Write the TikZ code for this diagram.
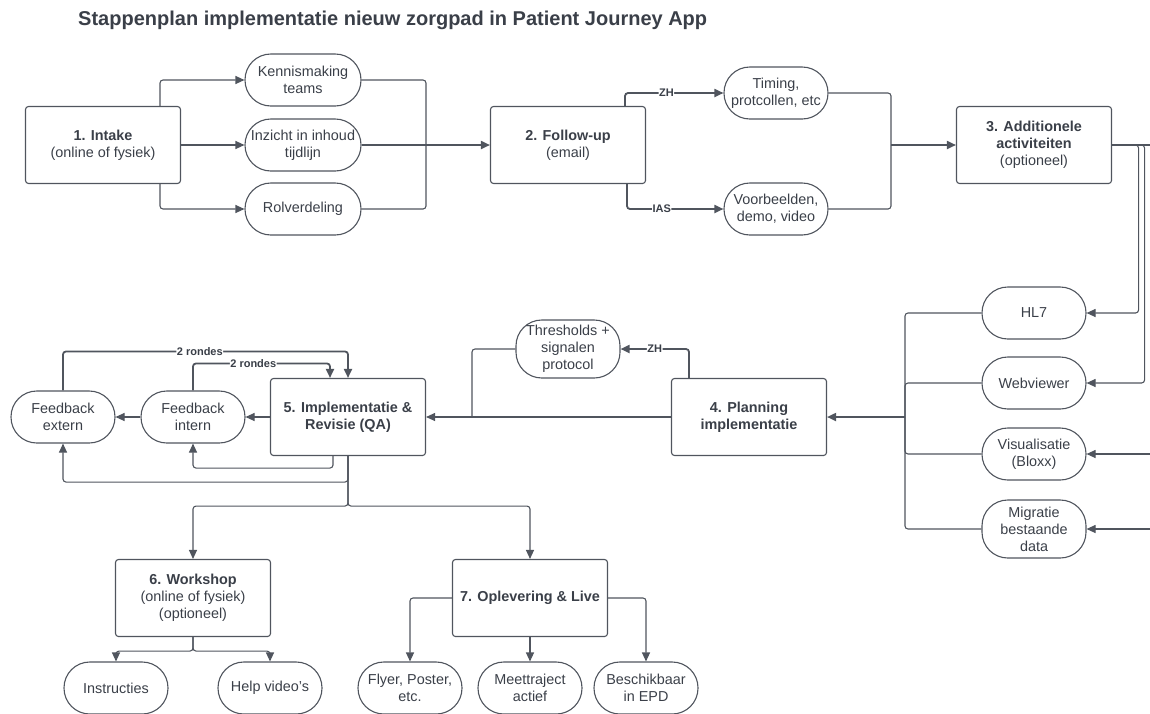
\documentclass[tikz,border=0pt]{standalone}
\usepackage{fontspec}
\setmainfont{Liberation Sans}
\usetikzlibrary{arrows.meta}
\definecolor{lc}{HTML}{50555E}
\definecolor{tc}{HTML}{3A3F48}
\begin{document}
\begin{tikzpicture}[x=1pt,y=-1pt,
  every node/.style={text=tc},
  box/.style={draw=lc, line width=1.1pt, rounded corners=3pt, minimum width=155pt, minimum height=77pt, align=center, inner sep=2pt, font=\fontsize{14.4}{17}\selectfont},
  pill/.style={draw=lc, line width=1.1pt, rounded corners=25.8pt, minimum width=104pt, minimum height=52pt, align=center, inner sep=1pt, font=\fontsize{14.4}{17}\selectfont},
  conn/.style={draw=lc, line width=1.1pt, rounded corners=3pt},
  thk/.style={line width=1.8pt},
  arr/.style={-{Triangle[length=9pt,width=8pt]}},
  lbl/.style={fill=white, inner sep=0.5pt, font=\bfseries\fontsize{11}{13}\selectfont}
]
\useasboundingbox (0,0) rectangle (1150,713);
\clip (0,0) rectangle (1150,713);

\node[anchor=west, inner sep=0pt, font=\bfseries\fontsize{20}{23}\selectfont] (title) at (78,20) {Stappenplan implementatie nieuw zorgpad in Patient Journey App};

% nodes
\node[box] (intake) at (103,145) {\textbf{1. Intake}\\(online of fysiek)};
\node[pill, minimum width=116pt] (kenn) at (303,80) {Kennismaking\\teams};
\node[pill, minimum width=116pt] (inz) at (303,145) {Inzicht in inhoud\\tijdlijn};
\node[pill, minimum width=116pt] (rol) at (303,209) {Rolverdeling};
\node[box] (fu) at (568,145) {\textbf{2. Follow-up}\\(email)};
\node[pill] (tim) at (776,93) {Timing,\\protcollen, etc};
\node[pill] (voor) at (776,209) {Voorbeelden,\\demo, video};
\node[box] (add) at (1034,145) {\textbf{3. Additionele}\\\textbf{activiteiten}\\(optioneel)};
\node[pill] (hl7) at (1034,313) {HL7};
\node[pill] (web) at (1034,383) {Webviewer};
\node[pill] (vis) at (1034,454) {Visualisatie\\(Bloxx)};
\node[pill, minimum height=58pt] (mig) at (1034,529) {Migratie\\bestaande\\data};
\node[box] (plan) at (749,417) {\textbf{4. Planning}\\\textbf{implementatie}};
\node[pill, minimum height=58pt] (thr) at (568,349) {Thresholds +\\signalen\\protocol};
\node[box] (impl) at (348,417) {\textbf{5. Implementatie \&}\\\textbf{Revisie (QA)}};
\node[pill] (fbi) at (193,417) {Feedback\\intern};
\node[pill] (fbe) at (63,417) {Feedback\\extern};
\node[box] (ws) at (193,598) {\textbf{6. Workshop}\\(online of fysiek)\\(optioneel)};
\node[box] (opl) at (530,598) {\textbf{7. Oplevering \& Live}};
\node[pill] (ins) at (116,688) {Instructies};
\node[pill] (help) at (270,688) {Help video's};
\node[pill] (fly) at (410,688) {Flyer, Poster,\\etc.};
\node[pill] (meet) at (530,688) {Meettraject\\actief};
\node[pill] (besch) at (646,688) {Beschikbaar\\in EPD};

% coordinates
\coordinate (m1) at (426,145);
\coordinate (m2) at (891,145);
\coordinate (m3) at (905,417);
\coordinate (m4) at (472,417);
\coordinate (re1) at (1160,145);
\coordinate (re2) at (1160,454);
\coordinate (re3) at (1160,529);

% step 1
\draw[conn,arr] ([xshift=57pt]intake.north) |- (kenn.west);
\draw[conn,arr] (intake.east) -- (inz.west);
\draw[conn,arr] ([xshift=57pt]intake.south) |- (rol.west);
\draw[conn] (kenn.east) -| (m1);
\draw[conn] (rol.east) -| (m1);
\draw[conn] (inz.east) -- (m1);
\draw[conn,thk,arr] (m1) -- (fu.west);

% step 2
\draw[conn,thk,arr] ([xshift=57pt]fu.north) |- node[lbl,pos=0.71]{ZH} (tim.west);
\draw[conn,thk,arr] ([xshift=59pt]fu.south) |- node[lbl,pos=0.68]{IAS} (voor.west);
\draw[conn] (tim.east) -| (m2);
\draw[conn] (voor.east) -| (m2);
\draw[conn,thk,arr] (m2) -- (add.west);

% step 3
\draw[conn,arr] (add.east) -| ([xshift=52pt]hl7.east) -- (hl7.east);
\draw[conn,arr] (add.east) -| ([xshift=58pt]web.east) -- (web.east);
\draw[conn,thk] (add.east) -- (re1);
\draw[conn,arr] (re2) -- (vis.east);
\draw[conn,arr] (re3) -- (mig.east);
\draw[conn] (hl7.west) -| (m3);
\draw[conn] (web.west) -| (m3);
\draw[conn] (vis.west) -| (m3);
\draw[conn] (mig.west) -| (m3);
\draw[conn,thk,arr] (m3) -- (plan.east);

% step 4
\draw[conn,thk,arr] ([xshift=-60pt]plan.north) |- node[lbl,pos=0.75]{ZH} (thr.east);
\draw[conn] (thr.west) -| (m4);
\draw[conn,arr] (plan.west) -- (impl.east);

% step 5
\draw[conn,arr] (impl.west) -- (fbi.east);
\draw[conn,arr] (fbi.west) -- (fbe.east);
\draw[conn,thk,arr] (fbe.north) -- ++(0,-39) -| node[lbl,pos=0.24]{2 rondes} (impl.north);
\draw[conn,thk,arr] (fbi.north) -- ++(0,-27) -| node[lbl,pos=0.22]{2 rondes} ([xshift=-18pt]impl.north);
\draw[conn,arr] ([xshift=-15pt]impl.south) -- ++(0,12) -| (fbi.south);
\draw[conn,arr] (impl.south) -- ++(0,26) -| (fbe.south);
\draw[conn,arr] (impl.south) -- ++(0,50) -| (ws.north);
\draw[conn,arr] (impl.south) -- ++(0,50) -| (opl.north);

% step 6
\draw[conn,arr] (ws.south) -- ++(0,14) -| (ins.north);
\draw[conn,arr] (ws.south) -- ++(0,14) -| (help.north);

% step 7
\draw[conn,arr] (opl.west) -| (fly.north);
\draw[conn,arr] (opl.south) -- (meet.north);
\draw[conn,arr] (opl.east) -| (besch.north);
\end{tikzpicture}
\end{document}
